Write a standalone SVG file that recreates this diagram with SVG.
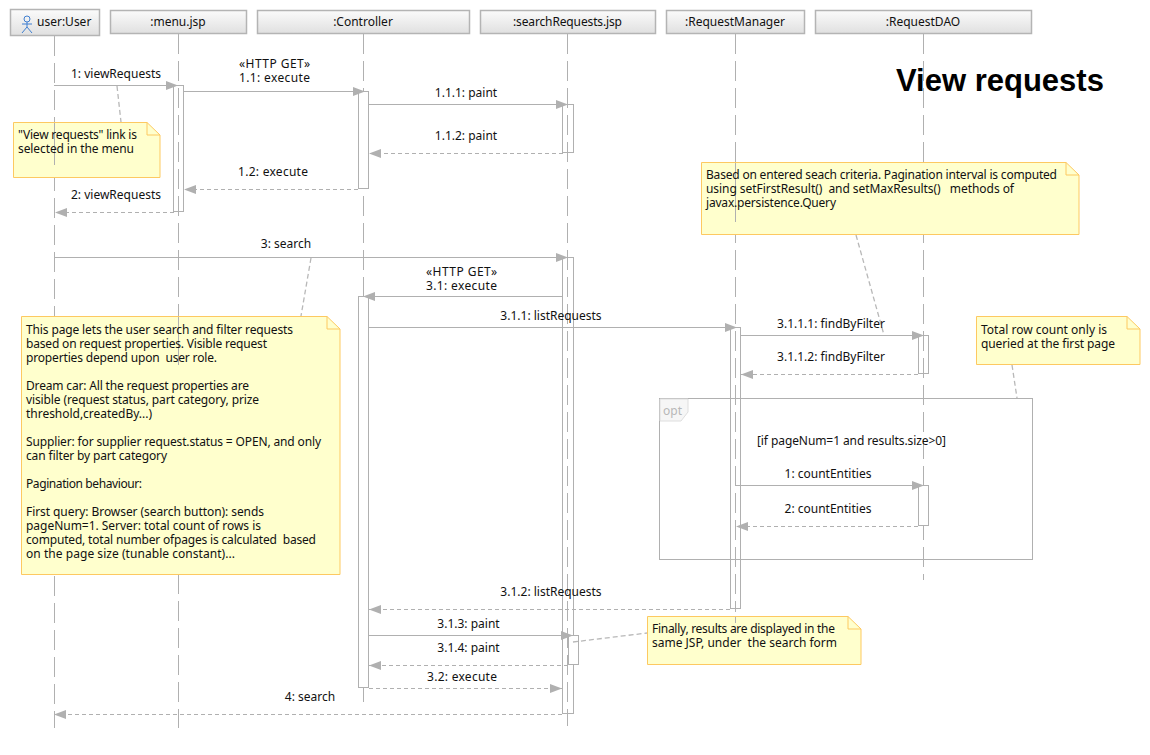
<svg xmlns="http://www.w3.org/2000/svg" width="1150" height="755" viewBox="0 0 1150 755">
<style>
text{font-family:"Noto Sans","DejaVu Sans",sans-serif;font-size:12px;fill:#111;white-space:pre}
.m{text-anchor:middle}
.hd{fill:url(#hg);stroke:#b4b4b4;stroke-width:1.5}
.ll{fill:none;stroke:#b0b0b0;stroke-width:1;stroke-dasharray:20 7}
.lf{fill:none;stroke:#b0b0b0;stroke-width:1}
.act{fill:#fff;stroke:#b0b0b0;stroke-width:1}
.actn{fill:none;stroke:#b0b0b0;stroke-width:1}
.s{fill:none;stroke:#b0b0b0;stroke-width:1;marker-end:url(#ah)}
.r{fill:none;stroke:#b0b0b0;stroke-width:1;stroke-dasharray:4 3;marker-end:url(#ah)}
.nl{fill:none;stroke:#b8b8b8;stroke-width:1.3;stroke-dasharray:5 3}
.nt{fill:none;stroke:#fdc961;stroke-width:1}
.nf{fill:#ffffcd;stroke:#fdc961;stroke-width:1}
.title{font-family:"Liberation Sans",Arial,sans-serif;font-size:31px;font-weight:bold;fill:#000}
</style>
<defs>
<linearGradient id="hg" x1="0" y1="0" x2="0" y2="1"><stop offset="0" stop-color="#fbfbfb"/><stop offset="1" stop-color="#e0e0e0"/></linearGradient>
<marker id="ah" markerUnits="userSpaceOnUse" markerWidth="13" markerHeight="10" refX="12" refY="4.500" orient="auto"><path d="M0 0L12 4.500L0 9Z" fill="#b0b0b0"/></marker>
</defs>
<rect width="1150" height="755" fill="#fff"/>
<g id="lifelines">
<path class="ll" d="M54.500 36V728"/>
<path class="ll" d="M178.500 34V728"/>
<path class="ll" d="M363.500 34V707"/>
<path class="ll" d="M567.500 34V726"/>
<path class="ll" d="M735.500 34V612"/>
<path class="ll" d="M923.500 34V580"/>
</g>
<g id="frame-opt">
<rect x="659.500" y="398.500" width="373" height="161" fill="none" stroke="#b0b0b0"/>
<path d="M660 399H688V412L681 421H660Z" fill="#f6f6f6" stroke="#dedede"/>
<text x="663" y="415" style="fill:#b8b8b8">opt</text>
<text x="757" y="445" textLength="189">[if pageNum=1 and results.size&gt;0]</text>
</g>
<g id="activations">
<rect class="actn" x="173.500" y="85.500" width="10" height="126"/>
<rect class="act" x="358.500" y="91.500" width="10" height="97"/>
<rect class="actn" x="562.500" y="104.500" width="11" height="48"/>
<rect class="actn" x="562.500" y="257.500" width="11" height="456"/>
<rect class="act" x="358.500" y="296.500" width="10" height="391"/>
<rect class="actn" x="730.500" y="327.500" width="10" height="281"/>
<rect class="actn" x="918.500" y="335.500" width="10" height="38"/>
<rect class="act" x="918.500" y="485.500" width="10" height="40"/>
<rect class="act" x="568.500" y="635.500" width="10" height="29"/>
</g>
<g id="connectors">
<path class="s" d="M54 85.500H178"/>
<path class="s" d="M184 91.500H365"/>
<path class="s" d="M369 104.500H568"/>
<path class="r" d="M563 153.500H369"/>
<path class="r" d="M358 189.500H184"/>
<path class="r" d="M174 212.500H55"/>
<path class="s" d="M54 257.500H568"/>
<path class="s" d="M562 296.500H363"/>
<path class="s" d="M369 327.500H737"/>
<path class="s" d="M741 335.500H924"/>
<path class="r" d="M918 374.500H741"/>
<path class="s" d="M736 485.500H924"/>
<path class="r" d="M918 526.500H736"/>
<path class="r" d="M730 609.500H369"/>
<path class="s" d="M369 635.500H573"/>
<path class="r" d="M568 665.500H369"/>
<path class="r" d="M369 688.500H562"/>
<path class="r" d="M562 714.500H54"/>
<path class="nl" d="M117 86L121 122"/>
<path class="nl" d="M311 258L301 316"/>
<path class="nl" d="M856 235L884 335"/>
<path class="nl" d="M1012 365L1017 398"/>
<path class="nl" d="M573 642L647 633"/>
</g>
<g id="labels">
<text class="m" x="116" y="78">1: viewRequests</text>
<text class="m" x="274.500" y="68" textLength="71">«HTTP GET»</text>
<text class="m" x="274.500" y="82" textLength="71">1.1: execute</text>
<text class="m" x="466" y="97">1.1.1: paint</text>
<text class="m" x="466" y="140">1.1.2: paint</text>
<text class="m" x="273" y="176" textLength="70">1.2: execute</text>
<text class="m" x="116" y="199">2: viewRequests</text>
<text class="m" x="286" y="248">3: search</text>
<text class="m" x="461.500" y="276" textLength="71">«HTTP GET»</text>
<text class="m" x="461.500" y="290" textLength="71">3.1: execute</text>
<text class="m" x="551" y="320">3.1.1: listRequests</text>
<text class="m" x="831" y="328">3.1.1.1: findByFilter</text>
<text class="m" x="831" y="361">3.1.1.2: findByFilter</text>
<text class="m" x="828" y="478">1: countEntities</text>
<text class="m" x="828" y="513">2: countEntities</text>
<text class="m" x="551" y="596">3.1.2: listRequests</text>
<text class="m" x="468.500" y="628">3.1.3: paint</text>
<text class="m" x="468.500" y="652">3.1.4: paint</text>
<text class="m" x="462" y="681" textLength="70">3.2: execute</text>
<text class="m" x="310" y="701">4: search</text>
</g>
<g id="user-User"><rect class="hd" x="10.500" y="9.500" width="89" height="26"/>
<g fill="none" stroke="#3f7fd0"><circle cx="27" cy="19" r="3"/><path d="M27 22V27M22 24H32M22 33L27 27L32 33"/></g>
<text x="37" y="26">user:User</text></g>
<g id="menu-jsp"><rect class="hd" x="110.500" y="10.500" width="136" height="23"/><text class="m" x="178" y="26">:menu.jsp</text></g>
<g id="Controller"><rect class="hd" x="257.500" y="10.500" width="212" height="23"/><text class="m" x="363" y="26">:Controller</text></g>
<g id="searchRequests-jsp"><rect class="hd" x="480.500" y="10.500" width="175" height="23"/><text class="m" x="567.500" y="26" textLength="109">:searchRequests.jsp</text></g>
<g id="RequestManager"><rect class="hd" x="666.500" y="10.500" width="138" height="23"/><text class="m" x="735" y="26">:RequestManager</text></g>
<g id="RequestDAO"><rect class="hd" x="815.500" y="10.500" width="216" height="23"/><text class="m" x="923" y="26">:RequestDAO</text></g>
<text class="title" x="896" y="91">View requests</text>
<g id="note-link"><path class="nf" d="M13.500 122.500H147L160 135V177.500H13.500Z"/><path class="nt" d="M147 122.500V135H160"/>
<path class="lf" d="M54.500 123V165"/>
<text x="18" y="139" textLength="119">"View requests" link is</text><text x="18" y="153" textLength="116">selected in the menu</text></g>
<g id="note-page"><path class="nf" d="M21.500 316.500H327L340 329V574.500H21.500Z"/><path class="nt" d="M327 316.500V329H340"/>
<path class="lf" d="M178.500 317V365"/>
<text x="26" y="334" textLength="267">This page lets the user search and filter requests</text>
<text x="26" y="348" textLength="241">based on request properties. Visible request</text>
<text x="26" y="362" textLength="191">properties depend upon  user role.</text>
<text x="26" y="390" textLength="223">Dream car: All the request properties are</text>
<text x="26" y="404" textLength="233">visible (request status, part category, prize</text>
<text x="26" y="418" textLength="126">threshold,createdBy...)</text>
<text x="26" y="446" textLength="295">Supplier: for supplier request.status = OPEN, and only</text>
<text x="26" y="460" textLength="141">can filter by part category</text>
<text x="26" y="488" textLength="116">Pagination behaviour:</text>
<text x="26" y="516" textLength="238">First query: Browser (search button): sends</text>
<text x="26" y="530" textLength="235">pageNum=1. Server: total count of rows is</text>
<text x="26" y="544" textLength="290">computed, total number ofpages is calculated  based</text>
<text x="26" y="558" textLength="209">on the page size (tunable constant)...</text></g>
<g id="note-criteria"><path class="nf" d="M701.500 162.500H1066L1079 175V234.500H701.500Z"/><path class="nt" d="M1066 162.500V175H1079"/>
<path class="lf" d="M735.500 163V222"/>
<text x="706" y="179" textLength="351">Based on entered seach criteria. Pagination interval is computed</text>
<text x="706" y="193" textLength="308">using setFirstResult()  and setMaxResults()   methods of</text>
<text x="706" y="207" textLength="130">javax.persistence.Query</text></g>
<g id="note-count"><path class="nf" d="M976.500 316.500H1127L1140 329V364.500H976.500Z"/><path class="nt" d="M1127 316.500V329H1140"/>
<text x="981" y="334" textLength="126">Total row count only is</text><text x="981" y="348" textLength="134">queried at the first page</text></g>
<g id="note-results"><path class="nf" d="M647.500 616.500H848L861 629V664.500H647.500Z"/><path class="nt" d="M848 616.500V629H861"/>
<path class="lf" d="M735.500 617V623"/>
<text x="652" y="633" textLength="183">Finally, results are displayed in the</text><text x="652" y="647" textLength="185">same JSP, under  the search form</text></g>
</svg>
